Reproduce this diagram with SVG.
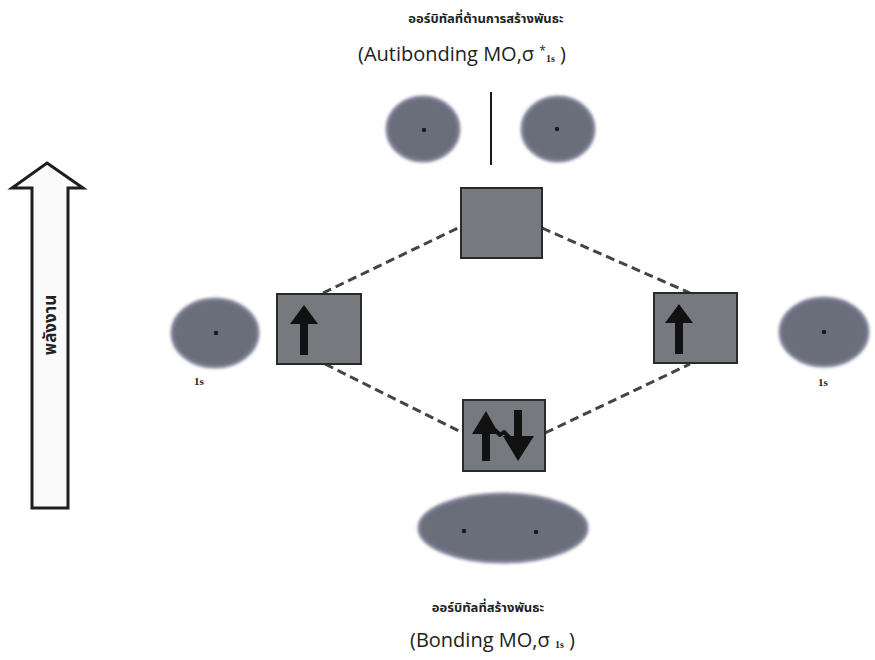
<svg xmlns="http://www.w3.org/2000/svg" width="875" height="660" viewBox="0 0 875 660">
  <defs>
    <filter id="soft" x="-20%" y="-20%" width="140%" height="140%">
      <feGaussianBlur stdDeviation="1.6"/>
    </filter>
  </defs>
  <style>
    .orb { fill: #6b6e7a; stroke: #80829a; stroke-width: 3; filter: url(#soft); }
    .nuc { fill: #1a1a1a; }
    .box { fill: #76797e; stroke: #2a2a2a; stroke-width: 2; }
    .spin { fill: #111; }
    .dash { fill: none; stroke: #444; stroke-width: 3; stroke-dasharray: 9 5; }
    .thai { font-family: "Noto Sans Thai", "Noto Sans", "DejaVu Sans", sans-serif; font-weight: bold; fill: #222; }
    .lab { font-family: "Open Sans", "Noto Sans", "Liberation Sans", sans-serif; fill: #222; }
    .small { font-family: "Liberation Serif", serif; font-weight: bold; font-size: 11px; fill: #222; }
  </style>

  <rect width="875" height="660" fill="#ffffff"/>

  <!-- energy axis -->
  <g id="energy-axis">
    <path d="M47,163 L83,188 L68,188 L68,508 L32,508 L32,188 L12,188 Z" fill="#fafafa" stroke="#1e1e1e" stroke-width="3" stroke-linejoin="miter"/>
    <text class="thai" font-size="17" text-anchor="middle" transform="translate(56,325) rotate(-90)">พลังงาน</text>
  </g>

  <!-- connectors -->
  <g id="connectors">
    <line class="dash" x1="323" y1="293" x2="460" y2="227"/>
    <line class="dash" x1="542" y1="228" x2="690" y2="293"/>
    <line class="dash" x1="325" y1="364" x2="463" y2="433"/>
    <line class="dash" x1="545" y1="433" x2="690" y2="364"/>
  </g>

  <!-- antibonding level -->
  <g id="antibonding-label">
    <text class="thai" font-size="13" x="486" y="23" text-anchor="middle">ออร์บิทัลที่ต้านการสร้างพันธะ</text>
    <text class="lab" font-size="20" x="358" y="61">(Autibonding MO,σ <tspan font-size="12" dy="-6">*</tspan><tspan font-size="10" dy="7" font-weight="bold" font-family="Liberation Serif, serif">1s</tspan><tspan dy="-1"> )</tspan></text>
  </g>
  <g id="antibonding-orbital">
    <ellipse class="orb" cx="423" cy="129" rx="36" ry="32"/>
    <circle class="nuc" cx="424" cy="130" r="2.2"/>
    <line x1="491" y1="92" x2="491" y2="165" stroke="#1a1a1a" stroke-width="2"/>
    <ellipse class="orb" cx="558" cy="129" rx="36" ry="32"/>
    <circle class="nuc" cx="557" cy="129" r="2.2"/>
  </g>
  <g id="antibonding-box">
    <rect class="box" x="461" y="188" width="81" height="70"/>
  </g>

  <!-- left atom -->
  <g id="left-atom">
    <ellipse class="orb" cx="215" cy="333" rx="43" ry="34"/>
    <circle class="nuc" cx="216" cy="333" r="2.2"/>
    <text class="small" x="199" y="385" text-anchor="middle">1s</text>
  </g>
  <g id="left-box">
    <rect class="box" x="277" y="294" width="84" height="70"/>
    <path class="spin" d="M304,305 L318,324 L308,324 L308,355 L300,355 L300,324 L290,324 Z"/>
  </g>

  <!-- right atom -->
  <g id="right-box">
    <rect class="box" x="654" y="293" width="83" height="70"/>
    <path class="spin" d="M679,304 L693,323 L683,323 L683,354 L675,354 L675,323 L665,323 Z"/>
  </g>
  <g id="right-atom">
    <ellipse class="orb" cx="824" cy="332" rx="44" ry="34"/>
    <circle class="nuc" cx="824" cy="332" r="2.2"/>
    <text class="small" x="823" y="386" text-anchor="middle">1s</text>
  </g>

  <!-- bonding level -->
  <g id="bonding-box">
    <rect class="box" x="463" y="400" width="82" height="71"/>
    <path class="spin" d="M486,411 L499,434 L490,434 L490,461 L482,461 L482,434 L472,434 Z"/>
    <path d="M495,430 L500,435 L504,432 L510,438" fill="none" stroke="#111" stroke-width="4" stroke-linejoin="round"/>
    <path class="spin" d="M518,461 L534,436 L522,436 L522,410 L514,410 L514,436 L503,436 Z"/>
  </g>
  <g id="bonding-orbital">
    <ellipse class="orb" cx="503" cy="528" rx="84" ry="34"/>
    <circle class="nuc" cx="464" cy="531" r="2.2"/>
    <circle class="nuc" cx="536" cy="532" r="2.2"/>
  </g>
  <g id="bonding-label">
    <text class="thai" font-size="13" x="488" y="612" text-anchor="middle">ออร์บิทัลที่สร้างพันธะ</text>
    <text class="lab" font-size="20" x="410" y="647">(Bonding MO,σ <tspan font-size="10" dy="1" font-weight="bold" font-family="Liberation Serif, serif">1s</tspan><tspan dy="-1"> )</tspan></text>
  </g>
</svg>
